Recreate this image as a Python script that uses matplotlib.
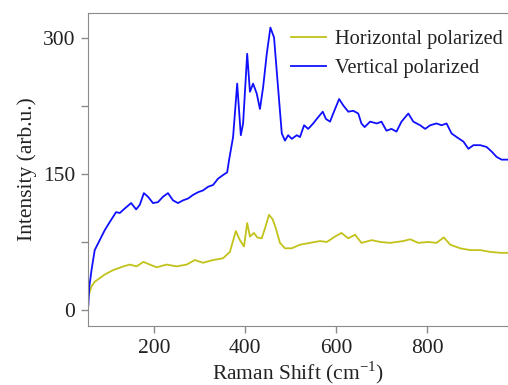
import numpy as np
import matplotlib
matplotlib.use("Agg")
import matplotlib.pyplot as plt
from matplotlib.ticker import MultipleLocator

# Vertical polarized spectrum
shift_v = [56, 58, 63, 70, 81, 92, 103, 117, 125, 136, 150, 161, 169, 178, 187,
           198, 209, 220, 231, 242, 253, 264, 275, 286, 297, 308, 319, 330, 341,
           352, 361, 365, 374, 383, 391, 396, 405, 411, 418, 426, 433, 440, 448,
           456, 464, 471, 481, 488, 495, 503, 514, 521, 530, 539, 550, 561, 571,
           578, 587, 594, 607, 616, 627, 638, 649, 656, 663, 675, 690, 700, 711,
           722, 733, 744, 759, 770, 785, 796, 807, 821, 832, 843, 854, 865, 880,
           891, 902, 917, 931, 942, 953, 964, 977]
intensity_v = [5, 25, 44, 66, 77, 88, 97, 108, 107, 112, 118, 111, 116, 129, 125,
               118, 119, 125, 129, 121, 118, 121, 123, 127, 130, 132, 136, 138, 145,
               149, 152, 165, 191, 250, 193, 206, 283, 241, 250, 239, 222, 246, 283,
               312, 301, 257, 195, 187, 193, 189, 193, 191, 204, 200, 206, 213, 219,
               211, 208, 217, 233, 226, 219, 220, 217, 206, 202, 208, 206, 208, 198,
               200, 197, 208, 217, 208, 204, 200, 204, 206, 204, 206, 195, 191, 186,
               178, 182, 182, 180, 175, 169, 166, 166]

# Horizontal polarized spectrum
shift_h = [56, 63, 70, 81, 92, 111, 133, 147, 162, 177, 191, 206, 228, 250, 272,
           290, 308, 330, 352, 367, 380, 389, 398, 405, 411, 420, 427, 437, 444,
           453, 461, 468, 477, 488, 503, 521, 543, 565, 580, 598, 612, 627, 642,
           656, 679, 697, 719, 748, 763, 781, 803, 821, 837, 851, 873, 895, 917,
           939, 961, 978]
intensity_h = [15, 26, 31, 35, 39, 44, 48, 50, 48, 53, 50, 47, 50, 48, 50,
               55, 52, 55, 57, 64, 87, 77, 70, 96, 81, 85, 80, 79, 90,
               105, 100, 90, 74, 68, 68, 72, 74, 76, 75, 81, 85, 79, 83,
               74, 77, 75, 74, 76, 78, 74, 75, 74, 80, 72, 68, 66, 66,
               64, 63, 63]

x_ticks = [200, 400, 600, 800]
y_ticks = [0, 150, 300]

plt.rcParams['font.family'] = ['Liberation Serif', 'DejaVu Serif']
plt.rcParams['font.size'] = 15.5

fig = plt.figure(figsize=(5.08, 3.85), dpi=100)
ax = fig.add_axes([0.173, 0.153, 0.827, 0.813])

ax.plot(shift_h, intensity_h, color='#c2c21a', lw=1.3, label='Horizontal polarized')
ax.plot(shift_v, intensity_v, color='#1010ff', lw=1.3, label='Vertical polarized')

ax.set_xlim(55, 978)
ax.set_ylim(-18, 328)
ax.set_xticks(x_ticks)
ax.set_yticks(y_ticks)
ax.yaxis.set_minor_locator(MultipleLocator(75))

for side in ['left', 'bottom', 'top']:
    ax.spines[side].set_color('#8a8a8a')
ax.spines['right'].set_visible(False)
ax.tick_params(which='both', direction='out', color='#8a8a8a', length=5, width=1)
ax.tick_params(axis='both', pad=4, labelcolor='#222222')

ax.set_xlabel('Raman Shift (cm$^{\\mathregular{-1}}$)', color='#222222', labelpad=1)
ax.set_ylabel('Intensity (arb.u.)', color='#222222', labelpad=4)

ax.legend(loc='upper right', frameon=False, handlelength=1.7, handletextpad=0.45,
          labelspacing=0.5, borderaxespad=0.1, labelcolor='#222222',
          fontsize=14.7, bbox_to_anchor=(1.012, 0.98))

fig.savefig('out.png', dpi=100)
